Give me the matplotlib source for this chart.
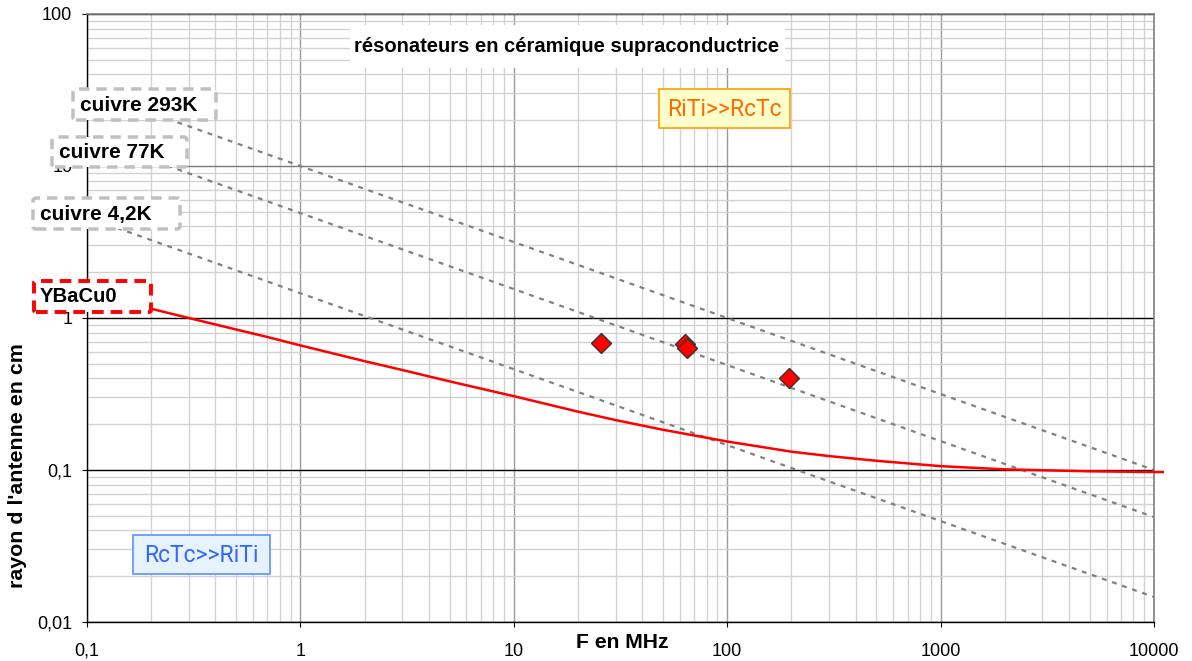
import numpy as np
import matplotlib
matplotlib.use('Agg')
import matplotlib.pyplot as plt
from matplotlib.ticker import FixedLocator, FixedFormatter, LogLocator, NullFormatter
from matplotlib.patches import FancyBboxPatch
from matplotlib.transforms import IdentityTransform

# data (F in MHz, radius in cm)
freq_cu = [0.1, 10000]
cu_293K = [31.6, 0.1]
cu_77K = [15.5, 0.049]
cu_4K = [4.6, 0.0146]

freq_ybco = [0.2, 0.3, 0.5, 0.7, 1, 2, 3, 5, 10, 20, 30, 50, 100, 200, 300, 500,
             1000, 2000, 5000, 10000, 11000]
r_ybco = [1.15, 1.0, 0.84, 0.75, 0.66, 0.52, 0.455, 0.383, 0.306, 0.242, 0.213, 0.184,
          0.154, 0.132, 0.1235, 0.115, 0.106, 0.101, 0.098, 0.097, 0.097]

freq_res = [25.6, 63.5, 65, 195]
r_res = [0.685, 0.675, 0.635, 0.40]

x_ticks = [0.1, 1, 10, 100, 1000, 10000]
x_labels = ['0,1', '1', '10', '100', '1000', '10000']
y_ticks = [0.01, 0.1, 1, 10, 100]
y_labels = ['0,01', '0,1', '1', '10', '100']

W, H = 1192, 661
plt.rcParams['font.family'] = ['Liberation Sans', 'DejaVu Sans']

fig = plt.figure(figsize=(W/100, H/100), dpi=100)
ax = fig.add_axes([87/W, 1-622/H, (1154-87)/W, (622-14)/H])
ax.set_xscale('log')
ax.set_yscale('log')
ax.set_xlim(0.1, 10000)
ax.set_ylim(0.01, 100)

# grid
ax.xaxis.set_major_locator(FixedLocator(x_ticks))
ax.xaxis.set_major_formatter(FixedFormatter(x_labels))
ax.yaxis.set_major_locator(FixedLocator(y_ticks))
ax.yaxis.set_major_formatter(FixedFormatter(y_labels))
ax.xaxis.set_minor_locator(LogLocator(base=10, subs=np.arange(2, 10)))
ax.yaxis.set_minor_locator(LogLocator(base=10, subs=np.arange(2, 10)))
ax.xaxis.set_minor_formatter(NullFormatter())
ax.yaxis.set_minor_formatter(NullFormatter())
ax.grid(which='minor', color='#d2d2d2', lw=1)
ax.xaxis.grid(which='major', color='#9a9a9a', lw=1)
ax.yaxis.grid(which='major', color='#000000', lw=1)
for val, gl in zip(y_ticks, ax.get_ygridlines()):
    if val == 10:
        gl.set_color('#7a7a7a')
ax.set_axisbelow(True)
ax.tick_params(which='minor', length=0)
ax.tick_params(which='major', length=3.6, direction='out', color='black', labelsize=13)
ax.tick_params(axis='x', pad=11.5)
ax.tick_params(axis='y', pad=7)
for s in ['top', 'right']:
    ax.spines[s].set_color('#808080')
    ax.spines[s].set_linewidth(1.2)
for s in ['left', 'bottom']:
    ax.spines[s].set_color('black')
    ax.spines[s].set_linewidth(1)

# copper skin-depth lines
for r in [cu_293K, cu_77K, cu_4K]:
    ax.plot(freq_cu, r, color='#808080', lw=1.6, linestyle=(0, (2.2, 2.6)))

# YBaCuO curve
ax.plot(freq_ybco, r_ybco, color='#ff0000', lw=1.8, clip_on=False, zorder=4)

# measured resonators
ax.plot(freq_res, r_res, 'D', color='#ff0000', markeredgecolor='#333333',
        markeredgewidth=1, markersize=10.5, zorder=5)

# axis titles
fig.text(18/W, 1-466/H, "rayon d l'antenne en cm", rotation=90, ha='center', va='center',
         fontsize=15.4, fontweight='bold')
fig.text(622/W, 1-642/H, 'F en MHz', ha='center', va='center', fontsize=15.2, fontweight='bold')


def box(x0, y0, x1, y1, fc, ec, ls, lw, rnd=0):
    p = FancyBboxPatch((x0, H-y1), x1-x0, y1-y0, boxstyle='round,pad=0,rounding_size=%g' % rnd,
                       transform=IdentityTransform(), fc=fc, ec=ec, ls=ls, lw=lw, zorder=6)
    fig.add_artist(p)


def label(x, y, s, **kw):
    fig.text(x/W, 1-y/H, s, va='center', zorder=7, **kw)


# title box
box(350, 25, 785, 68, 'white', 'none', '-', 0)
label(567, 47, 'résonateurs en céramique supraconductrice', ha='center', fontsize=14.5,
      fontweight='bold')

# copper labels (dashed grey boxes)
for (x0, y0, x1, y1, txt) in [(73, 89, 216, 120, 'cuivre 293K'),
                              (52, 137, 187, 167, 'cuivre 77K'),
                              (33, 198, 180, 229, 'cuivre 4,2K')]:
    box(x0, y0, x1, y1, 'white', '#c0c0c0', (0, (3, 2)), 2.5, 3)
    label(x0+7, (y0+y1)/2+1, txt, ha='left', fontsize=15, fontweight='bold')

box(34, 281, 151, 312, 'white', '#ff0000', (0, (3, 1.8)), 2.8, 2)
label(40, 297, 'YBaCu0', ha='left', fontsize=14.6, fontweight='bold')

# regime boxes
box(659, 89, 790, 128, '#ffffcc', '#ffa31a', '-', 1.3)
label(724.5, 109, 'RiTi>>RcTc', ha='center', fontsize=16.5, color='#ff6a00',
      family=['Roboto', 'DejaVu Sans'])
box(133, 535, 270, 574, '#e6f3ff', '#6699ff', '-', 1.3)
label(201.5, 555, 'RcTc>>RiTi', ha='center', fontsize=16.5, color='#3366ff',
      family=['Roboto', 'DejaVu Sans'])

fig.savefig('out.png', dpi=100)
